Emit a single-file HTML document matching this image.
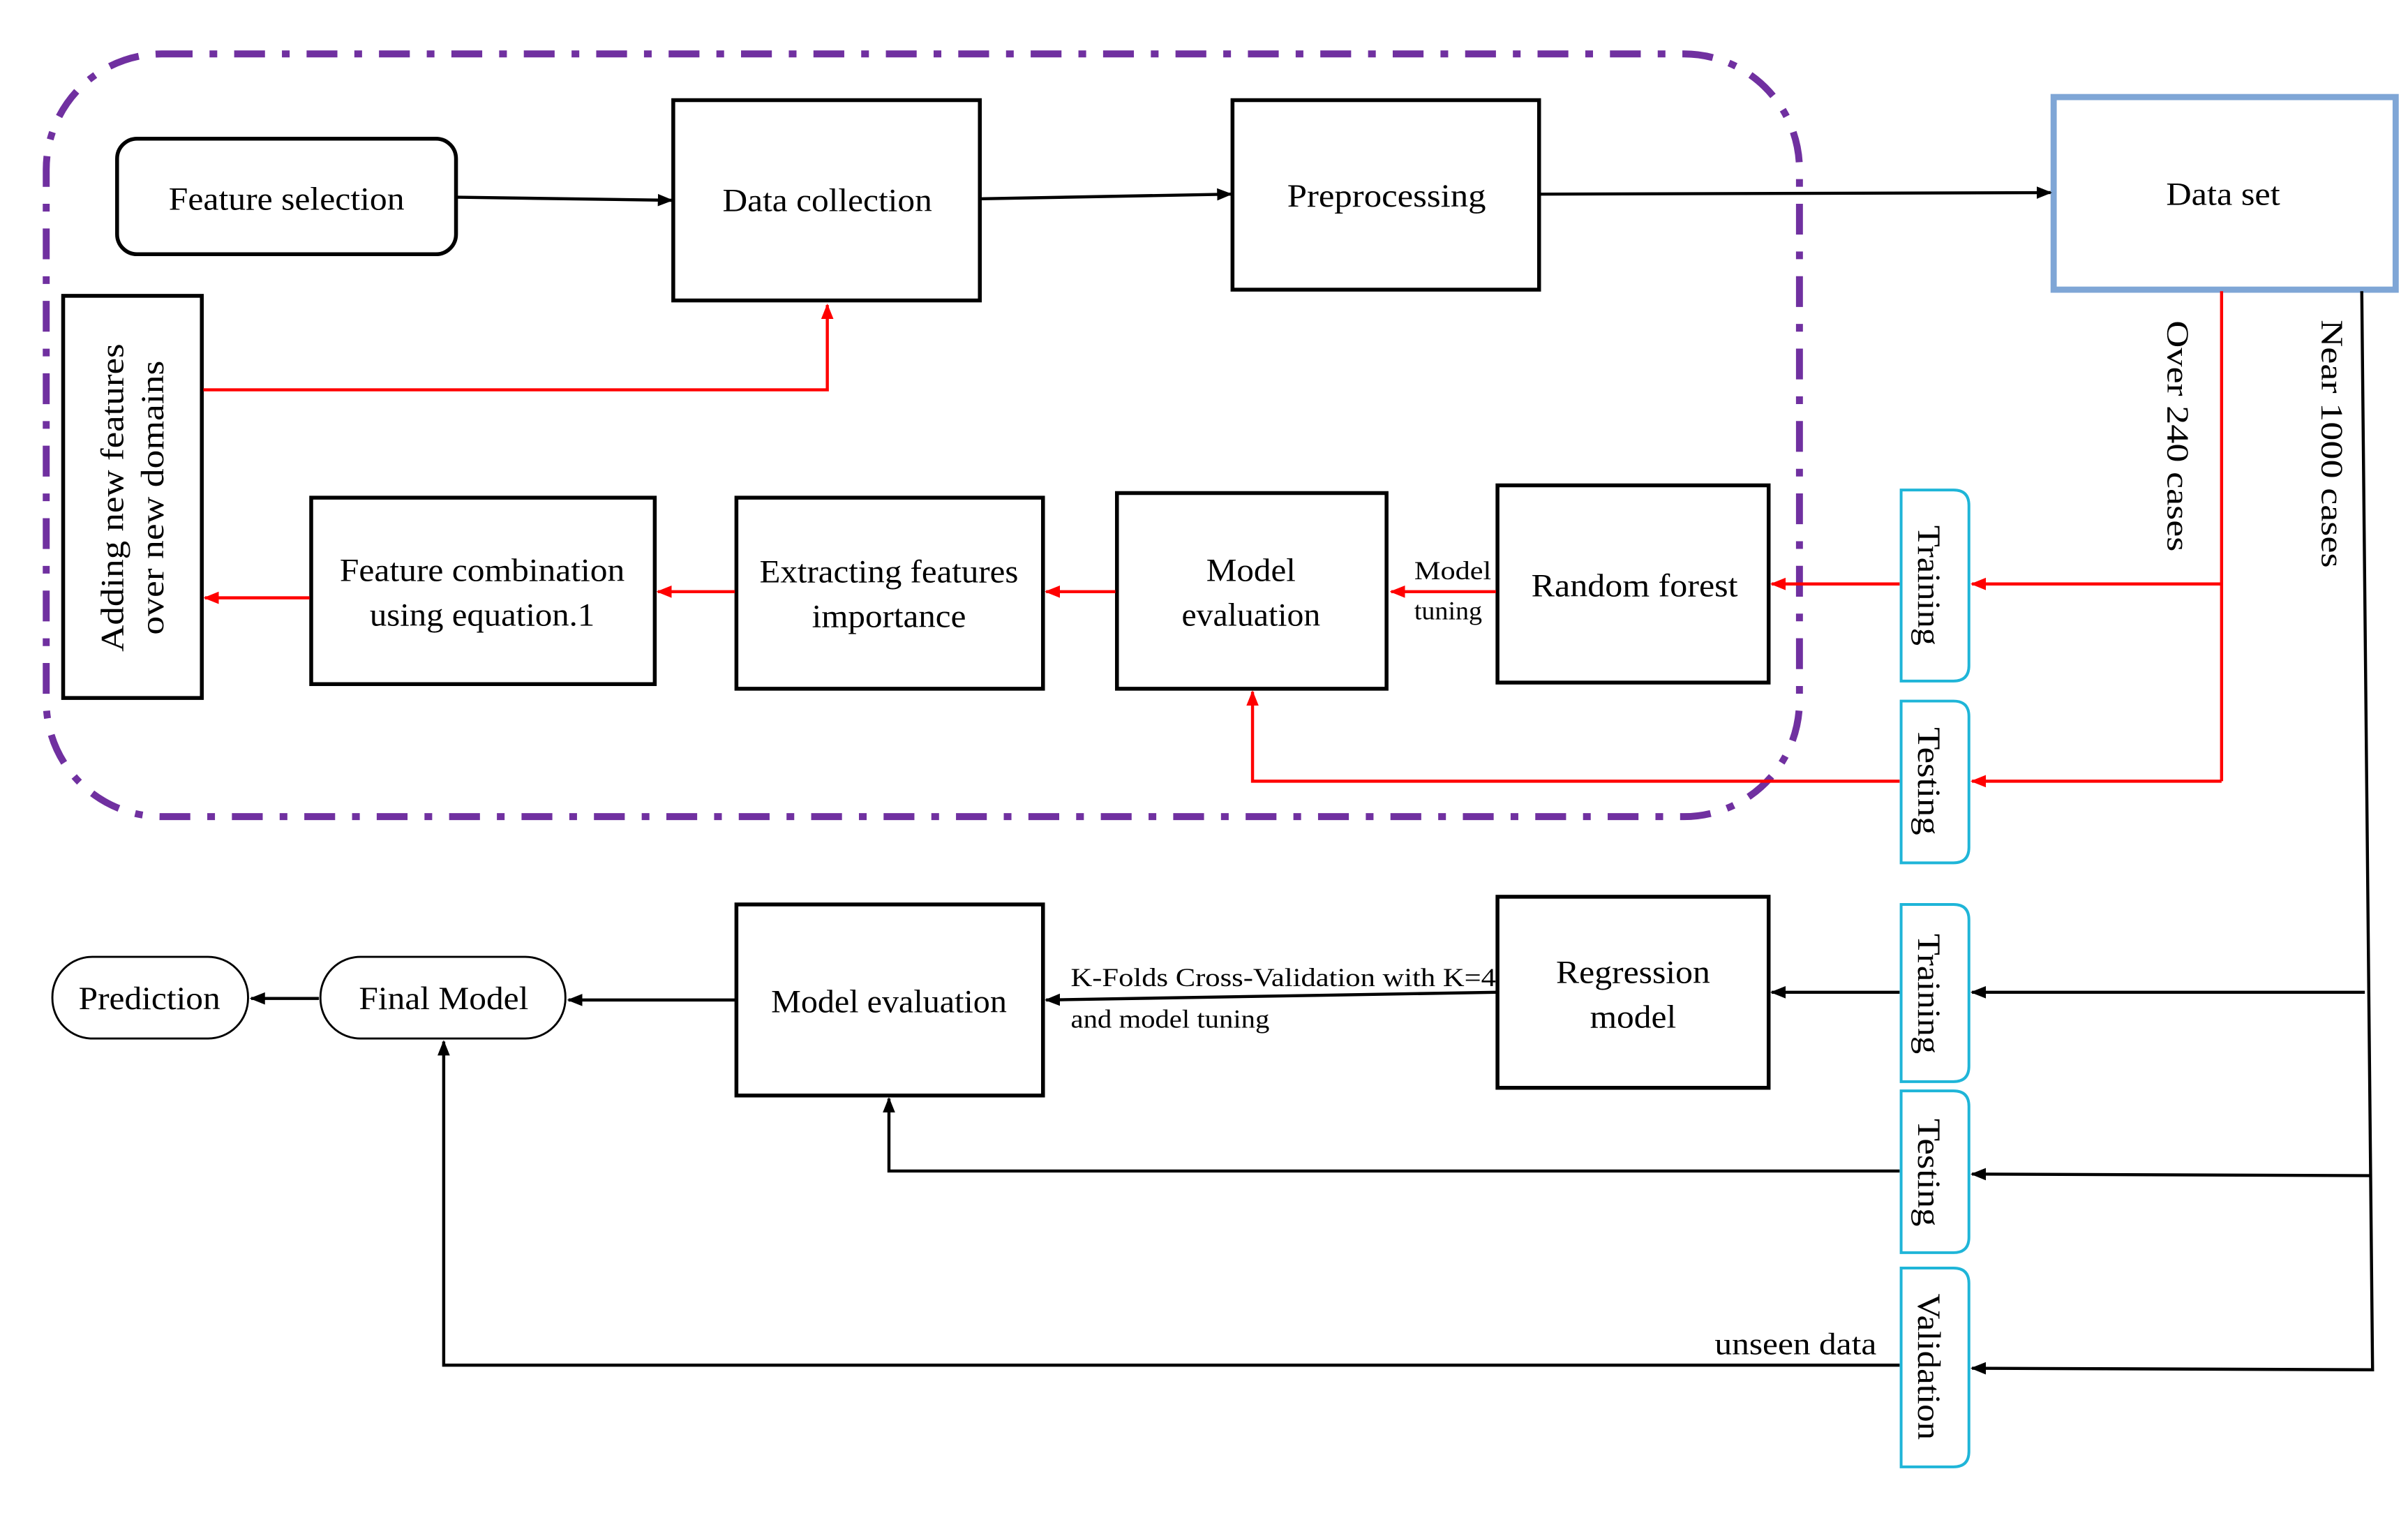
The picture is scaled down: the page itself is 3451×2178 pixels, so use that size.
<!DOCTYPE html>
<html><head><meta charset="utf-8"><style>
html,body{margin:0;padding:0;background:#fff;}
svg{display:block;}
text{font-family:"Liberation Serif",serif;fill:#000;}
</style></head><body>
<svg width="3451" height="2178" viewBox="0 0 1563 986.5" preserveAspectRatio="none" xmlns="http://www.w3.org/2000/svg">
<defs>
<marker id="ab" markerUnits="userSpaceOnUse" markerWidth="10" markerHeight="10" refX="9" refY="5" orient="auto"><path d="M0,1 L10,5 L0,9 Z" fill="#000"/></marker>
<marker id="ar" markerUnits="userSpaceOnUse" markerWidth="10" markerHeight="10" refX="9" refY="5" orient="auto"><path d="M0,1 L10,5 L0,9 Z" fill="#f00"/></marker>
</defs>
<rect x="0" y="0" width="1563" height="986.5" fill="#fff"/>
<!-- purple dash-dot container -->
<rect x="30" y="35" width="1138" height="495" rx="75" ry="75" fill="none" stroke="#7030A0" stroke-width="4.5" stroke-dasharray="20 11 5 11"/>

<!-- top row -->
<rect x="76" y="90" width="220" height="75" rx="13" fill="#fff" stroke="#000" stroke-width="2.5"/>
<text x="186" y="136" font-size="21" text-anchor="middle" textLength="153" lengthAdjust="spacingAndGlyphs">Feature selection</text>
<rect x="437" y="65" width="199" height="130" fill="#fff" stroke="#000" stroke-width="2.5"/>
<text x="537" y="137" font-size="21" text-anchor="middle" textLength="136" lengthAdjust="spacingAndGlyphs">Data collection</text>
<rect x="800" y="65" width="199" height="123" fill="#fff" stroke="#000" stroke-width="2.5"/>
<text x="900" y="134" font-size="21" text-anchor="middle" textLength="129" lengthAdjust="spacingAndGlyphs">Preprocessing</text>
<rect x="1333" y="63" width="222" height="125" fill="#fff" stroke="#7FA6D6" stroke-width="4"/>
<text x="1443" y="133" font-size="21" text-anchor="middle" textLength="74" lengthAdjust="spacingAndGlyphs">Data set</text>

<line x1="297" y1="128" x2="436" y2="130" stroke="#000" stroke-width="2" marker-end="url(#ab)"/>
<line x1="637" y1="129" x2="799" y2="126" stroke="#000" stroke-width="2" marker-end="url(#ab)"/>
<line x1="1000" y1="126" x2="1331" y2="125" stroke="#000" stroke-width="2" marker-end="url(#ab)"/>

<!-- adding new features -->
<rect x="41" y="192" width="90" height="261" fill="#fff" stroke="#000" stroke-width="2.5"/>
<text transform="translate(80,323) rotate(-90)" font-size="21" text-anchor="middle" textLength="200" lengthAdjust="spacingAndGlyphs">Adding new features</text>
<text transform="translate(106,323) rotate(-90)" font-size="21" text-anchor="middle" textLength="178" lengthAdjust="spacingAndGlyphs">over new domains</text>
<polyline points="132,253 537,253 537,198" fill="none" stroke="#f00" stroke-width="2" marker-end="url(#ar)"/>

<!-- middle row -->
<rect x="202" y="323" width="223" height="121" fill="#fff" stroke="#000" stroke-width="2.5"/>
<text x="313" y="377" font-size="21" text-anchor="middle" textLength="185" lengthAdjust="spacingAndGlyphs">Feature combination</text>
<text x="313" y="406" font-size="21" text-anchor="middle" textLength="146" lengthAdjust="spacingAndGlyphs">using equation.1</text>
<rect x="478" y="323" width="199" height="124" fill="#fff" stroke="#000" stroke-width="2.5"/>
<text x="577" y="378" font-size="21" text-anchor="middle" textLength="168" lengthAdjust="spacingAndGlyphs">Extracting features</text>
<text x="577" y="407" font-size="21" text-anchor="middle" textLength="100" lengthAdjust="spacingAndGlyphs">importance</text>
<rect x="725" y="320" width="175" height="127" fill="#fff" stroke="#000" stroke-width="2.5"/>
<text x="812" y="377" font-size="21" text-anchor="middle" textLength="58" lengthAdjust="spacingAndGlyphs">Model</text>
<text x="812" y="406" font-size="21" text-anchor="middle" textLength="90" lengthAdjust="spacingAndGlyphs">evaluation</text>
<rect x="972" y="315" width="176" height="128" fill="#fff" stroke="#000" stroke-width="2.5"/>
<text x="1061" y="387" font-size="21" text-anchor="middle" textLength="134" lengthAdjust="spacingAndGlyphs">Random forest</text>

<line x1="971" y1="384" x2="903" y2="384" stroke="#f00" stroke-width="2" marker-end="url(#ar)"/>
<text x="918" y="376" font-size="17" textLength="50" lengthAdjust="spacingAndGlyphs">Model</text>
<text x="918" y="402" font-size="17" textLength="44" lengthAdjust="spacingAndGlyphs">tuning</text>
<line x1="724" y1="384" x2="679" y2="384" stroke="#f00" stroke-width="2" marker-end="url(#ar)"/>
<line x1="477" y1="384" x2="427" y2="384" stroke="#f00" stroke-width="2" marker-end="url(#ar)"/>
<line x1="201" y1="388" x2="133" y2="388" stroke="#f00" stroke-width="2" marker-end="url(#ar)"/>

<!-- cyan split boxes -->
<g fill="#fff" stroke="#1FB5D8" stroke-width="1.8">
<path d="M1234,318 H1268 Q1278,318 1278,328 V432 Q1278,442 1268,442 H1234 Z"/>
<path d="M1234,455 H1268 Q1278,455 1278,465 V550 Q1278,560 1268,560 H1234 Z"/>
<path d="M1234,587 H1268 Q1278,587 1278,597 V692 Q1278,702 1268,702 H1234 Z"/>
<path d="M1234,708 H1268 Q1278,708 1278,718 V803 Q1278,813 1268,813 H1234 Z"/>
<path d="M1234,823 H1268 Q1278,823 1278,833 V942 Q1278,952 1268,952 H1234 Z"/>
</g>
<text transform="translate(1245,380) rotate(90)" font-size="21" text-anchor="middle" textLength="78" lengthAdjust="spacingAndGlyphs">Training</text>
<text transform="translate(1245,507) rotate(90)" font-size="21" text-anchor="middle" textLength="70" lengthAdjust="spacingAndGlyphs">Testing</text>
<text transform="translate(1245,645) rotate(90)" font-size="21" text-anchor="middle" textLength="78" lengthAdjust="spacingAndGlyphs">Training</text>
<text transform="translate(1245,761) rotate(90)" font-size="21" text-anchor="middle" textLength="70" lengthAdjust="spacingAndGlyphs">Testing</text>
<text transform="translate(1245,887) rotate(90)" font-size="21" text-anchor="middle" textLength="95" lengthAdjust="spacingAndGlyphs">Validation</text>

<!-- red connections from data set -->
<line x1="1233" y1="379" x2="1150" y2="379" stroke="#f00" stroke-width="2" marker-end="url(#ar)"/>
<polyline points="1233,507 813,507 813,449" fill="none" stroke="#f00" stroke-width="2" marker-end="url(#ar)"/>
<polyline points="1442,189 1442,507" fill="none" stroke="#f00" stroke-width="2"/>
<line x1="1442" y1="379" x2="1280" y2="379" stroke="#f00" stroke-width="2" marker-end="url(#ar)"/>
<line x1="1442" y1="507" x2="1280" y2="507" stroke="#f00" stroke-width="2" marker-end="url(#ar)"/>
<text transform="translate(1407,283) rotate(90)" font-size="20" text-anchor="middle" textLength="150" lengthAdjust="spacingAndGlyphs">Over 240 cases</text>
<text transform="translate(1507,288) rotate(90)" font-size="20" text-anchor="middle" textLength="161" lengthAdjust="spacingAndGlyphs">Near 1000 cases</text>

<!-- black line from data set -->
<polyline points="1533,189 1540,889 1280,888" fill="none" stroke="#000" stroke-width="2" marker-end="url(#ab)"/>
<line x1="1535" y1="644" x2="1280" y2="644" stroke="#000" stroke-width="2" marker-end="url(#ab)"/>
<line x1="1538" y1="763" x2="1280" y2="762" stroke="#000" stroke-width="2" marker-end="url(#ab)"/>

<!-- lower row -->
<rect x="972" y="582" width="176" height="124" fill="#fff" stroke="#000" stroke-width="2.5"/>
<text x="1060" y="638" font-size="21" text-anchor="middle" textLength="100" lengthAdjust="spacingAndGlyphs">Regression</text>
<text x="1060" y="667" font-size="21" text-anchor="middle" textLength="56" lengthAdjust="spacingAndGlyphs">model</text>
<line x1="1233" y1="644" x2="1150" y2="644" stroke="#000" stroke-width="2" marker-end="url(#ab)"/>

<rect x="478" y="587" width="199" height="124" fill="#fff" stroke="#000" stroke-width="2.5"/>
<text x="577" y="657" font-size="21" text-anchor="middle" textLength="153" lengthAdjust="spacingAndGlyphs">Model evaluation</text>
<line x1="971" y1="644" x2="679" y2="649" stroke="#000" stroke-width="2" marker-end="url(#ab)"/>
<text x="695" y="640" font-size="17" textLength="276" lengthAdjust="spacingAndGlyphs">K-Folds Cross-Validation  with  K=4</text>
<text x="695" y="667" font-size="17" textLength="129" lengthAdjust="spacingAndGlyphs">and model tuning</text>

<rect x="208" y="621" width="159" height="53" rx="26" fill="#fff" stroke="#000" stroke-width="1.3"/>
<text x="288" y="655" font-size="21" text-anchor="middle" textLength="110" lengthAdjust="spacingAndGlyphs">Final Model</text>
<rect x="34" y="621" width="127" height="53" rx="26" fill="#fff" stroke="#000" stroke-width="1.3"/>
<text x="97" y="655" font-size="21" text-anchor="middle" textLength="92" lengthAdjust="spacingAndGlyphs">Prediction</text>
<line x1="477" y1="649" x2="369" y2="649" stroke="#000" stroke-width="2" marker-end="url(#ab)"/>
<line x1="207" y1="648" x2="163" y2="648" stroke="#000" stroke-width="2" marker-end="url(#ab)"/>

<polyline points="1233,760 577,760 577,713" fill="none" stroke="#000" stroke-width="2" marker-end="url(#ab)"/>
<polyline points="1233,886 288,886 288,676" fill="none" stroke="#000" stroke-width="2" marker-end="url(#ab)"/>
<text x="1218" y="879" font-size="20" text-anchor="end" textLength="105" lengthAdjust="spacingAndGlyphs">unseen data</text>
</svg>
</body></html>
